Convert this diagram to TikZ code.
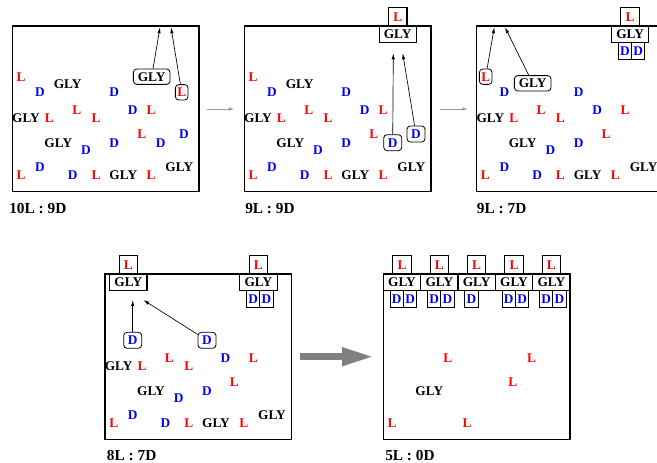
\documentclass[tikz,border=0pt]{standalone}
\usepackage{fontspec}
\setmainfont{Liberation Serif}
\usetikzlibrary{positioning,arrows.meta}

\begin{document}
\begin{tikzpicture}
  [x=0.75pt,y=-0.75pt,
   every node/.style={font=\fontsize{10}{12}\selectfont\bfseries, inner sep=0pt},
   Lm/.style={text=red}, Dm/.style={text=blue},
   free/.style={draw, rounded corners=2.5pt, line width=0.6pt, minimum height=11.5pt},
   fixed/.style={draw, line width=0.8pt, outer sep=0pt, minimum height=12.4pt},
   fixedL/.style={fixed, Lm, minimum width=13.9pt, minimum height=13.9pt},
   fixedG/.style={fixed, minimum width=28pt},
   fixedD/.style={fixed, Dm, minimum width=10pt},
   move/.style={-{Latex[length=4.5pt,width=2.5pt]}, line width=0.5pt},
   step arrow/.style={-{Latex[length=4pt,width=2.6pt]}, line width=0.6pt, black!40},
   panel/.style={line width=1pt},
   count/.style={anchor=west, font=\fontsize{11.5}{13}\selectfont\bfseries}]
  \path[use as bounding box, clip] (0,0) rectangle (657,463);

  % panel 1
  \begin{scope}
    \draw[panel] (12.3,26) rectangle (199,191.5);
    \foreach \n/\x/\y in {1/21/76.7, 8/49.3/117.7, 9/76.7/110, 10/96/117.7, 12/151/110,
                          16/141.7/134, 19/21/175, 22/96/175, 24/151/175}
      \node[Lm] (a\n) at (\x,\y) {L};
    \foreach \n/\x/\y in {2/40/92.3, 4/114.3/92.3, 11/132.7/110, 14/86/150, 15/114.3/142.7,
                          17/160.7/142.7, 18/184/134, 20/40/167.3, 21/72.7/175}
      \node[Dm] (a\n) at (\x,\y) {D};
    \foreach \n/\x/\y in {3/67.7/84.3, 7/26/117.7, 13/58.3/142.7, 23/123.3/175, 25/179.3/167.3}
      \node (a\n) at (\x,\y) {GLY};
    \node[free, minimum width=27.5pt] (a5) at (151.7,76.7) {GLY};
    \node[free, Lm, minimum width=9.5pt] (a6) at (181.7,92.3) {L};
    \coordinate (a5t) at (160,27.3);
    \coordinate (a6t) at (171,27.3);
    \draw[move] (a5) -- (a5t);
    \draw[move] (a6) -- (a6t);
    \node[count] (ca) at (9,208.5) {10L : 9D};
  \end{scope}

  % panel 2
  \begin{scope}[shift={(232,0)}]
    \draw[panel] (12.3,26) rectangle (199,191.5);
    \foreach \n/\x/\y in {1/21/76.7, 8/49.3/117.7, 9/76.7/110, 10/96/117.7, 12/151/110,
                          16/141.7/134, 19/21/175, 22/96/175, 24/151/175}
      \node[Lm] (b\n) at (\x,\y) {L};
    \foreach \n/\x/\y in {2/40/92.3, 4/114.3/92.3, 11/132.7/110, 14/86/150, 15/114.3/142.7,
                          20/40/167.3, 21/72.7/175}
      \node[Dm] (b\n) at (\x,\y) {D};
    \foreach \n/\x/\y in {3/67.7/84.3, 7/26/117.7, 13/58.3/142.7, 23/123.3/175, 25/179.3/167.3}
      \node (b\n) at (\x,\y) {GLY};
    \node[free, Dm, minimum width=13.5pt, minimum height=12pt] (b17) at (160.7,142.7) {D};
    \node[free, Dm, minimum width=13.5pt, minimum height=12pt] (b18) at (184,134) {D};
    \node[fixedG] (bg1) at (165.7,34.3) {GLY};
    \node[fixedL, above=0pt of bg1] (bl1) {L};
    \coordinate (b17t) at (161.3,53.3);
    \coordinate (b18t) at (170.7,53.3);
    \draw[move] (b17) -- (b17t);
    \draw[move] (b18) -- (b18t);
    \node[count] (cb) at (13,208.5) {9L : 9D};
  \end{scope}

  % panel 3
  \begin{scope}[shift={(464.4,0)}]
    \draw[panel] (12.3,26) rectangle (199,191.5);
    \foreach \n/\x/\y in {8/49.3/117.7, 9/76.7/110, 10/96/117.7, 12/160.6/110,
                          16/141.7/134, 19/21/175, 22/96/175, 24/151/175}
      \node[Lm] (c\n) at (\x,\y) {L};
    \foreach \n/\x/\y in {2/40/92.3, 4/114.3/92.3, 11/132.7/110, 14/86/150, 15/114.3/142.7,
                          20/40/167.3, 21/72.7/175}
      \node[Dm] (c\n) at (\x,\y) {D};
    \foreach \n/\x/\y in {7/26/117.7, 13/58.3/142.7, 23/123.3/175, 25/179.3/167.3}
      \node (c\n) at (\x,\y) {GLY};
    \node[free, Lm, minimum width=9.5pt] (c1) at (21.3,76.7) {L};
    \node[free, minimum width=27.5pt] (c3) at (68.3,83.3) {GLY};
    \node[fixedG] (cg1) at (165.7,34.3) {GLY};
    \node[fixedL, above=0pt of cg1] (cl1) {L};
    \node[fixedD, anchor=north east] (cd1) at ([xshift=1.1pt]cg1.south) {D};
    \node[fixedD, right=0pt of cd1] (cd2) {D};
    \coordinate (c1t) at (29.9,27.3);
    \coordinate (c3t) at (40.6,27.3);
    \draw[move] (c1) -- (c1t);
    \draw[move] (c3) -- (c3t);
    \node[count] (cc) at (12.3,208.5) {9L : 7D};
  \end{scope}

  % panel 4
  \begin{scope}[shift={(92.7,248)}]
    \draw[panel] (12.3,26) rectangle (199,191.5);
    \foreach \n/\x/\y in {8/49.3/117.7, 9/76.7/110, 10/96/117.7, 12/160.6/110,
                          16/141.7/134, 19/21/175, 22/96/175, 24/151/175}
      \node[Lm] (d\n) at (\x,\y) {L};
    \foreach \n/\x/\y in {11/132.7/110, 14/86/150, 15/114.3/142.7, 20/40/167.3, 21/72.7/175}
      \node[Dm] (d\n) at (\x,\y) {D};
    \foreach \n/\x/\y in {7/26/117.7, 13/58.3/142.7, 23/123.3/175, 25/179.3/167.3}
      \node (d\n) at (\x,\y) {GLY};
    \node[free, Dm, minimum width=13.5pt, minimum height=12pt] (d2) at (40,92.3) {D};
    \node[free, Dm, minimum width=13.5pt, minimum height=12pt] (d4) at (114.3,92.3) {D};
    \node[fixedG] (dg1) at (35.6,34.3) {GLY};
    \node[fixedL, above=0pt of dg1] (dl1) {L};
    \node[fixedG] (dg2) at (165.7,34.3) {GLY};
    \node[fixedL, above=0pt of dg2] (dl2) {L};
    \node[fixedD, anchor=north east] (dd1) at ([xshift=1.1pt]dg2.south) {D};
    \node[fixedD, right=0pt of dd1] (dd2) {D};
    \coordinate (d2t) at (40,52);
    \coordinate (d4t) at (50.6,52);
    \draw[move] (d2) -- (d2t);
    \draw[move] (d4) -- (d4t);
    \node[count] (cd) at (14,207.2) {8L : 7D};
  \end{scope}

  % panel 5
  \begin{scope}[shift={(371,248)}]
    \draw[panel] (12.3,26) rectangle (199,191.5);
    \foreach \n/\x/\y in {9/76.7/110, 12/160.6/110, 16/141.7/134, 19/21/175, 22/96/175}
      \node[Lm] (e\n) at (\x,\y) {L};
    \node (e13) at (58.3,142.7) {GLY};
    \node[fixedG] (eg1) at (31,34.3) {GLY};
    \foreach \i [count=\j from 2] in {1,...,4}
      \node[fixedG, right=0pt of eg\i] (eg\j) {GLY};
    \foreach \i in {1,...,5}
      \node[fixedL, above=0pt of eg\i] (el\i) {L};
    \foreach \i in {1,2,3,4,5}
      \node[fixedD, anchor=north east] (ed\i) at ([xshift=1.1pt]eg\i.south) {D};
    \foreach \i in {1,2,4,5}
      \node[fixedD, right=0pt of ed\i] (ef\i) {D};
    \node[count] (ce) at (14,207.2) {5L : 0D};
  \end{scope}

  % steps between panels
  \coordinate (s1) at (206.7,109);
  \coordinate (t1) at (234.3,109);
  \coordinate (s2) at (440,109);
  \coordinate (t2) at (467.7,109);
  \coordinate (s3) at (300,356.7);
  \coordinate (t3) at (374,356.7);
  \draw[step arrow] (s1) -- (t1);
  \draw[step arrow] (s2) -- (t2);
  \draw[-{Triangle[length=24pt,width=12.75pt]}, line width=5.25pt, black!50] (s3) -- (t3);
\end{tikzpicture}
\end{document}
